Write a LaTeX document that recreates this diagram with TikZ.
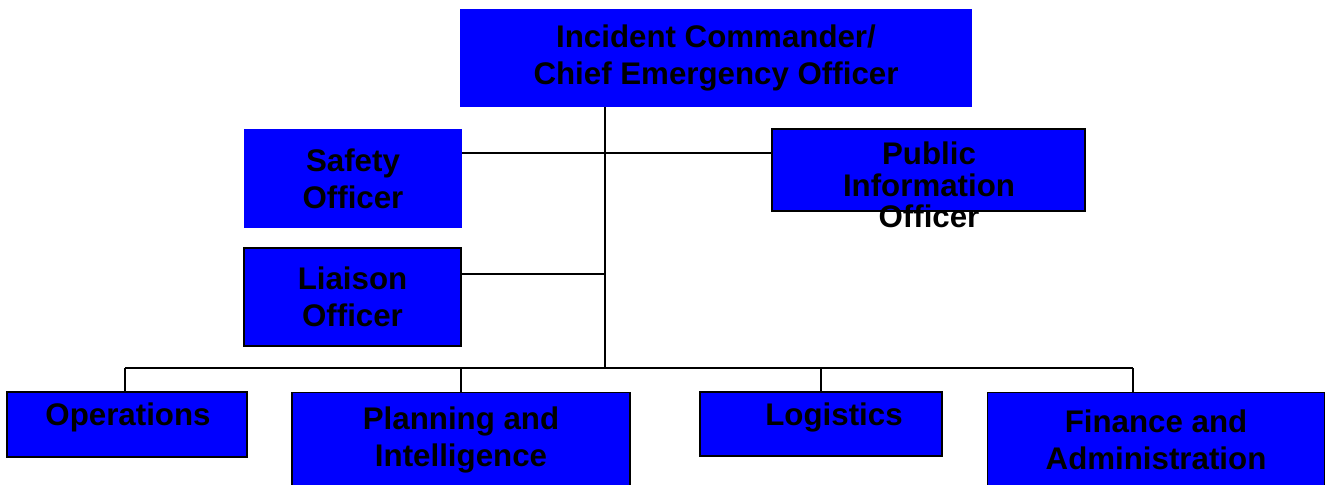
\documentclass[tikz,border=0pt]{standalone}
\usepackage{fontspec}
\setmainfont{Liberation Sans}
\usepackage{tikz}
\usetikzlibrary{calc}

\begin{document}
\begin{tikzpicture}[x=0.02cm, y=-0.02cm,
        box_style/.style={rectangle,fill=blue,inner sep=0pt,align=center,font=\fontsize{17.8}{21}\selectfont\bfseries},
        framed_box_style/.style={box_style,draw=black,line width=1pt},
        text_style/.style={inner sep=0pt,align=center,font=\fontsize{17.8}{21}\selectfont\bfseries},
        edge_style/.style={draw=black, line width=1.2pt},
        bus_style/.style={draw=black, line width=1.4pt},
        tick_style/.style={draw=black, line width=0.8pt}]

        \useasboundingbox (0,0) rectangle (1327,484);

        \node [box_style, minimum width=10.24cm, minimum height=1.96cm](cmd) at (716,58) {Incident Commander/\\Chief Emergency Officer};

        \node [box_style, minimum width=4.36cm, minimum height=1.98cm](safety) at (353,178.5) {Safety\\Officer};

        \node [framed_box_style, minimum width=4.34cm, minimum height=1.96cm](liaison) at (352.5,297) {Liaison\\Officer};

        \node [framed_box_style, line width=0.8pt, minimum width=6.26cm, minimum height=1.64cm](pio) at (928.5,170) {};

        \node [text_style, font=\fontsize{17.8}{18}\selectfont\bfseries](pio_text) at (929,185) {Public\\Information\\Officer};

        \node [framed_box_style, line width=0.8pt, minimum width=4.8cm, minimum height=1.3cm](ops) at (127,424.5) {};

        \node [text_style](ops_text) at (128,417) {Operations};

        \node [framed_box_style, minimum width=6.76cm, minimum height=1.9cm](plan) at (461,440) {Planning and\\Intelligence};

        \node [framed_box_style, line width=0.8pt, minimum width=4.84cm, minimum height=1.28cm](log) at (821,424) {};

        \node [text_style](log_text) at (834,417) {Logistics};

        \node [framed_box_style, minimum width=6.74cm, minimum height=1.9cm](fin) at (1156,440) {Finance and\\Administration};

        \coordinate (hub) at (605,368);

        \coordinate (bus_left) at (125,368);

        \coordinate (bus_right) at (1133,368);

        \draw [edge_style] (cmd.south -| hub) -- (hub);

        \draw [edge_style] (safety.east |- 0,153) -- (pio.west |- 0,153);

        \draw [edge_style] (liaison.east |- 0,274) -- (hub |- 0,274);

        \draw [bus_style] (bus_left) -- (bus_right);

        \draw [tick_style] (bus_left) -- (bus_left |- ops.north);

        \draw [tick_style] (plan.north |- hub) -- (plan.north);

        \draw [tick_style] (log.north |- hub) -- (log.north);

        \draw [tick_style] (bus_right) -- (bus_right |- fin.north);

        \end{tikzpicture}
\end{document}
